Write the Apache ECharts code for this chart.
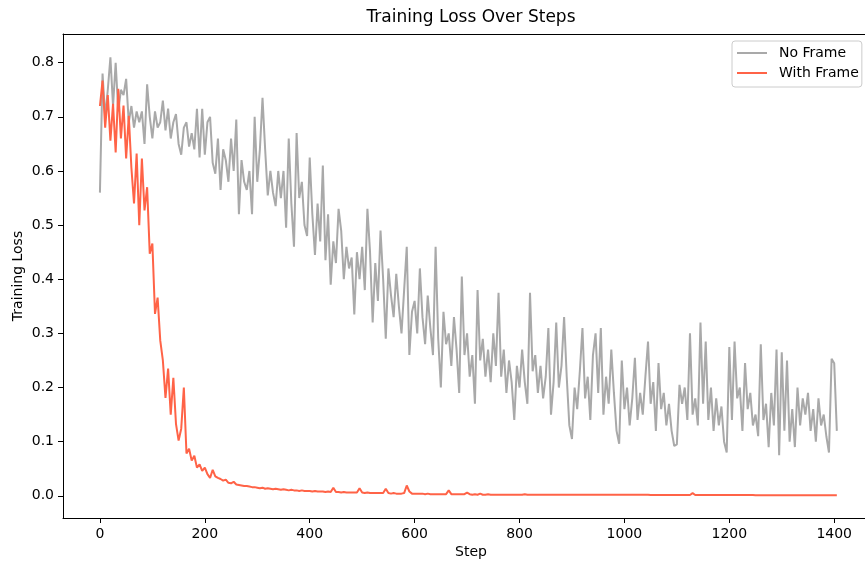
<!DOCTYPE html>
<html><head><meta charset="utf-8">
<script src="https://cdn.jsdelivr.net/npm/echarts@6/dist/echarts.min.js"></script>
<style>html,body{margin:0;padding:0;background:#fff}#c{width:865px;height:563px}</style>
</head><body><div id="c"></div>
<script>
// Steps are logged every STEP_INTERVAL training steps, starting at 0
const STEP_INTERVAL = 5;
const xTickLabels = [0, 200, 400, 600, 800, 1000, 1200, 1400];
const yTickLabels = [0.0, 0.1, 0.2, 0.3, 0.4, 0.5, 0.6, 0.7, 0.8];
const seriesNames = ['No Frame', 'With Frame'];

// "No Frame" training loss (one value per STEP_INTERVAL steps)
const noFrameLoss = [
  0.56,0.78,0.70,0.75,0.81,0.72,0.80,0.71,0.75,0.74,0.77,0.69,0.72,0.68,0.71,0.69,0.71,0.65,0.76,0.70,
  0.66,0.71,0.68,0.69,0.73,0.675,0.715,0.66,0.69,0.705,0.65,0.63,0.68,0.69,0.645,0.67,0.64,0.715,0.625,0.715,
  0.63,0.69,0.70,0.615,0.595,0.66,0.565,0.64,0.62,0.58,0.66,0.60,0.695,0.52,0.62,0.58,0.565,0.60,0.52,0.70,
  0.58,0.64,0.735,0.64,0.555,0.60,0.56,0.535,0.60,0.55,0.60,0.495,0.66,0.54,0.46,0.67,0.55,0.58,0.50,0.48,
  0.625,0.52,0.445,0.54,0.47,0.61,0.435,0.52,0.39,0.47,0.43,0.53,0.49,0.40,0.46,0.42,0.44,0.335,0.45,0.40,
  0.46,0.38,0.53,0.45,0.32,0.43,0.36,0.49,0.40,0.29,0.42,0.37,0.33,0.41,0.35,0.30,0.38,0.46,0.26,0.34,
  0.36,0.30,0.42,0.33,0.28,0.37,0.31,0.26,0.46,0.29,0.20,0.34,0.28,0.30,0.24,0.33,0.27,0.19,0.405,0.26,
  0.30,0.22,0.26,0.17,0.38,0.25,0.29,0.22,0.27,0.21,0.30,0.24,0.375,0.22,0.27,0.19,0.25,0.21,0.14,0.24,
  0.20,0.27,0.21,0.17,0.375,0.23,0.26,0.19,0.24,0.18,0.22,0.31,0.15,0.21,0.32,0.20,0.24,0.33,0.22,0.13,
  0.105,0.20,0.16,0.23,0.31,0.18,0.22,0.14,0.26,0.30,0.19,0.31,0.15,0.22,0.17,0.27,0.19,0.12,0.096,0.25,
  0.16,0.20,0.13,0.18,0.255,0.14,0.19,0.15,0.22,0.285,0.17,0.21,0.12,0.245,0.16,0.19,0.13,0.17,0.12,0.092,
  0.095,0.205,0.17,0.20,0.14,0.30,0.15,0.18,0.13,0.32,0.17,0.285,0.14,0.20,0.12,0.18,0.13,0.165,0.10,0.08,
  0.275,0.14,0.285,0.18,0.20,0.12,0.245,0.16,0.19,0.13,0.15,0.11,0.28,0.14,0.17,0.09,0.19,0.13,0.27,0.075,
  0.265,0.12,0.25,0.10,0.16,0.09,0.20,0.13,0.18,0.15,0.19,0.12,0.16,0.10,0.18,0.13,0.15,0.11,0.08,0.253,0.245,0.12
];

// "With Frame" training loss (one value per STEP_INTERVAL steps)
const withFrameLoss = [
  0.72,0.767,0.68,0.74,0.656,0.724,0.634,0.752,0.66,0.721,0.623,0.702,0.606,0.54,0.632,0.50,0.623,0.527,0.57,0.447,
  0.466,0.336,0.366,0.287,0.25,0.181,0.235,0.15,0.218,0.133,0.102,0.124,0.20,0.078,0.087,0.065,0.074,0.052,0.058,0.046,
  0.052,0.040,0.033,0.048,0.036,0.033,0.031,0.028,0.030,0.024,0.023,0.026,0.021,0.020,0.019,0.018,0.018,0.017,0.016,0.016,
  0.015,0.014,0.015,0.013,0.014,0.013,0.012,0.013,0.012,0.011,0.012,0.011,0.010,0.011,0.010,0.010,0.009,0.010,0.009,0.009,
  0.009,0.008,0.009,0.008,0.008,0.008,0.007,0.008,0.007,0.015,0.007,0.007,0.006,0.007,0.006,0.006,0.006,0.006,0.006,0.014,
  0.006,0.005,0.006,0.005,0.005,0.005,0.005,0.005,0.005,0.013,0.005,0.004,0.005,0.004,0.004,0.004,0.005,0.019,0.008,0.004,
  0.004,0.004,0.004,0.004,0.003,0.004,0.003,0.003,0.003,0.003,0.003,0.003,0.003,0.010,0.003,0.003,0.003,0.003,0.003,0.003,
  0.006,0.003,0.002,0.003,0.002,0.004,0.002,0.002,0.003,0.002,0.002,0.002,0.002,0.002,0.002,0.002,0.002,0.002,0.002,0.002,
  0.002,0.002,0.003,0.002,0.002,0.002,0.002,0.002,0.002,0.002,0.002,0.002,0.002,0.002,0.002,0.002,0.002,0.002,0.002,0.002,
  0.002,0.002,0.002,0.002,0.002,0.002,0.002,0.002,0.002,0.002,0.002,0.002,0.002,0.002,0.002,0.002,0.002,0.002,0.002,0.002,
  0.002,0.002,0.002,0.002,0.002,0.002,0.002,0.002,0.002,0.002,0.0015,0.0015,0.0015,0.0015,0.0015,0.0015,0.0015,0.0015,0.0015,0.0015,
  0.0015,0.0015,0.0015,0.0015,0.0015,0.0015,0.005,0.0015,0.0015,0.0015,0.0015,0.0015,0.0015,0.0015,0.0015,0.0015,0.0015,0.0015,0.0015,0.0015,
  0.0015,0.0015,0.0015,0.0015,0.0015,0.0015,0.0015,0.0015,0.0015,0.0015,0.001,0.001,0.001,0.001,0.001,0.001,0.001,0.001,0.001,0.001,
  0.001,0.001,0.001,0.001,0.001,0.001,0.001,0.001,0.001,0.001,0.001,0.001,0.001,0.001,0.001,0.001,0.001,0.001,0.001,0.001,0.001,0.001
];

const toPairs = vals => vals.map((v, i) => [i * STEP_INTERVAL, v]);

const FONT = 'DejaVu Sans';
const X_MIN = -70.4, X_MAX = 1458.7;
const chart = echarts.init(document.getElementById('c'), null, { renderer: 'canvas' });
chart.setOption({
  animation: false,
  backgroundColor: '#fff',
  textStyle: { fontFamily: FONT },
  grid: { left: 63, top: 34, right: 0, bottom: 45, show: false },
  graphic: [
    { type: 'text', x: 471, y: 18, style: { text: 'Training Loss Over Steps', font: '17px "DejaVu Sans"', fill: '#000', textAlign: 'center', textVerticalAlign: 'middle' } },
    { type: 'text', x: 471, y: 552, style: { text: 'Step', font: '14px "DejaVu Sans"', fill: '#000', textAlign: 'center', textVerticalAlign: 'middle' } },
    { type: 'text', x: 18, y: 276, rotation: Math.PI / 2, style: { text: 'Training Loss', font: '14px "DejaVu Sans"', fill: '#000', textAlign: 'center', textVerticalAlign: 'middle' } }
  ],
  legend: {
    orient: 'vertical', left: 732, top: 41,
    data: seriesNames,
    icon: 'rect', itemWidth: 30, itemHeight: 2, itemGap: 6,
    padding: [5, 3, 7, 5],
    backgroundColor: 'rgba(255,255,255,0.8)', borderColor: '#cccccc', borderWidth: 1, borderRadius: 3,
    textStyle: { fontFamily: FONT, fontSize: 14, color: '#000', padding: [0, 0, 0, 7] }
  },
  xAxis: [{
    type: 'value', min: X_MIN, max: X_MAX,
    splitLine: { show: false },
    axisLine: { show: true, onZero: false, lineStyle: { color: '#000', width: 1 } },
    axisTick: { show: true, length: 5, lineStyle: { color: '#000', width: 1 }, customValues: xTickLabels },
    axisLabel: { customValues: xTickLabels, margin: 9, color: '#000', fontSize: 14, fontFamily: FONT, formatter: v => String(v) }
  }, {
    type: 'value', position: 'top', min: X_MIN, max: X_MAX,
    splitLine: { show: false },
    axisLine: { show: true, onZero: false, lineStyle: { color: '#000', width: 1 } },
    axisTick: { show: false }, axisLabel: { show: false }
  }],
  yAxis: {
    type: 'value', min: -0.041, max: 0.853,
    splitLine: { show: false },
    axisLine: { show: true, onZero: false, lineStyle: { color: '#000', width: 1 } },
    axisTick: { show: true, length: 5, lineStyle: { color: '#000', width: 1 }, customValues: yTickLabels },
    axisLabel: { customValues: yTickLabels, margin: 9, color: '#000', fontSize: 14, fontFamily: FONT, formatter: v => v.toFixed(1) }
  },
  series: [
    { name: seriesNames[0], type: 'line', data: toPairs(noFrameLoss), showSymbol: false, symbol: 'none', sampling: null,
      lineStyle: { color: '#a9a9a9', width: 2 }, itemStyle: { color: '#a9a9a9' }, z: 2 },
    { name: seriesNames[1], type: 'line', data: toPairs(withFrameLoss), showSymbol: false, symbol: 'none', sampling: null,
      lineStyle: { color: '#ff6347', width: 2 }, itemStyle: { color: '#ff6347' }, z: 3 }
  ]
});
</script></body></html>
